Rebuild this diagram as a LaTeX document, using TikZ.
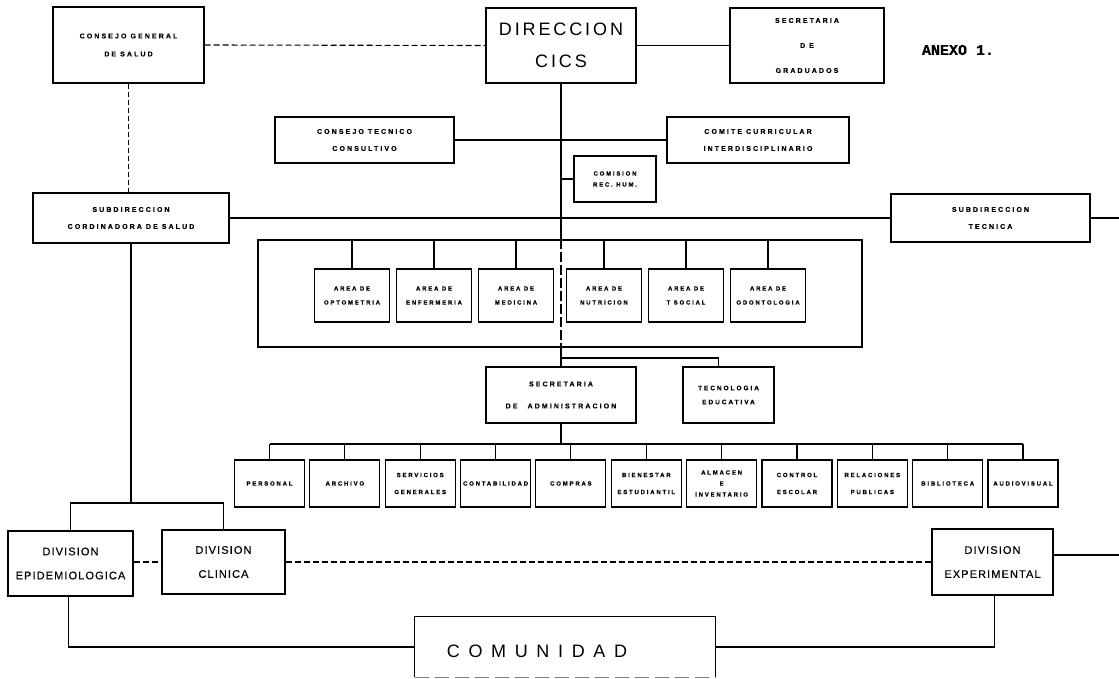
\documentclass[tikz,border=0pt]{standalone}
\usepackage{fontspec}
\setmainfont{Liberation Sans}
\newfontfamily\boldsp{Liberation Sans}[LetterSpace=30, BoldFeatures={FakeBold=0.4}]
\newfontfamily\midsp{Liberation Sans}[LetterSpace=10, FakeBold=0.25]
\newfontfamily\bigsp{Liberation Sans}[LetterSpace=16]
\newfontfamily\comsp{Liberation Sans}[LetterSpace=48]
\newfontfamily\anexof{Liberation Mono}[BoldFeatures={FakeBold=0.5}]
\tikzset{
  box/.style={draw, line width=1.1pt, inner sep=0pt, align=center},
  sm/.style={font=\boldsp\bfseries\fontsize{7}{17}\selectfont},
  xs/.style={font=\boldsp\bfseries\fontsize{6}{14}\selectfont},
  dv/.style={font=\midsp\fontsize{11}{24}\selectfont},
  ln/.style={line width=1.1pt},
  dsh/.style={line width=1.1pt, dash pattern=on 6pt off 3pt},
}
\begin{document}
\begin{tikzpicture}[x=1pt,y=-1pt]
\fill[white] (0,0) rectangle (1119,679);
\useasboundingbox (0,0) rectangle (1119,679);

% top row
\node[box, font=\boldsp\bfseries\fontsize{7}{18}\selectfont, minimum width=151pt, minimum height=76pt] (cgs) at (128.5,45) {CONSEJO GENERAL\\DE SALUD};
\node[box, font=\bigsp\fontsize{18}{32}\selectfont, minimum width=150pt, minimum height=75pt] (dir) at (561,45.5) {DIRECCION\\CICS};
\node[box, font=\boldsp\bfseries\fontsize{7}{25}\selectfont, minimum width=154pt, minimum height=75pt] (sg) at (807,45.5) {SECRETARIA\\D E\\GRADUADOS};
\node[font=\anexof\bfseries\fontsize{15}{15}\selectfont] (anx) at (958,50) {ANEXO 1.};

% consejo / comite / comision
\node[box, sm, minimum width=179pt, minimum height=46pt] (ct) at (364.5,140) {CONSEJO TECNICO\\CONSULTIVO};
\node[box, sm, minimum width=182pt, minimum height=46pt] (cc) at (758,140) {COMITE CURRICULAR\\INTERDISCIPLINARIO};
\node[box, font=\boldsp\bfseries\fontsize{6}{11}\selectfont, minimum width=82pt, minimum height=46pt] (com) at (615,179) {COMISION\\REC. HUM.};

% subdirecciones
\node[box, sm, minimum width=196pt, minimum height=50pt] (sc) at (131,218) {SUBDIRECCION\\CORDINADORA DE SALUD};
\node[box, sm, minimum width=199pt, minimum height=48pt] (st) at (990.5,218) {SUBDIRECCION\\TECNICA};
\coordinate (re1) at (1119,218);

% areas frame
\node[box, minimum width=604pt, minimum height=107pt] (fr) at (560,293.5) {};
\node[box, xs, minimum width=75pt, minimum height=53pt] (a1) at (352,295.5) {AREA DE\\OPTOMETRIA};
\node[box, xs, minimum width=75pt, minimum height=53pt] (a2) at (434,295.5) {AREA DE\\ENFERMERIA};
\node[box, xs, minimum width=75pt, minimum height=53pt] (a3) at (516,295.5) {AREA DE\\MEDICINA};
\node[box, xs, minimum width=75pt, minimum height=53pt] (a4) at (604,295.5) {AREA DE\\NUTRICION};
\node[box, xs, minimum width=75pt, minimum height=53pt] (a5) at (686,295.5) {AREA DE\\T SOCIAL};
\node[box, xs, minimum width=75pt, minimum height=53pt] (a6) at (768,295.5) {AREA DE\\ODONTOLOGIA};

% secretaria admin / tecnologia
\node[box, font=\boldsp\bfseries\fontsize{7}{22}\selectfont, minimum width=150pt, minimum height=56pt] (sa) at (561,395) {SECRETARIA\\DE\hspace{6pt} ADMINISTRACION};
\node[box, font=\boldsp\bfseries\fontsize{6.5}{14}\selectfont, minimum width=91pt, minimum height=56pt] (te) at (728.5,395) {TECNOLOGIA\\EDUCATIVA};
\coordinate (tb) at (561,358);
\coordinate (bus) at (561,444);

% bottom row
\node[box, xs, minimum width=70pt, minimum height=47pt] (b1) at (269.5,483.5) {PERSONAL};
\node[box, xs, minimum width=70pt, minimum height=47pt] (b2) at (344.9,483.5) {ARCHIVO};
\node[box, font=\boldsp\bfseries\fontsize{6}{17}\selectfont, minimum width=70pt, minimum height=47pt] (b3) at (420.2,483.5) {SERVICIOS\\GENERALES};
\node[box, xs, minimum width=70pt, minimum height=47pt] (b4) at (495.6,483.5) {CONTABILIDAD};
\node[box, xs, minimum width=70pt, minimum height=47pt] (b5) at (570.9,483.5) {COMPRAS};
\node[box, font=\boldsp\bfseries\fontsize{6}{17}\selectfont, minimum width=70pt, minimum height=47pt] (b6) at (646.3,483.5) {BIENESTAR\\ESTUDIANTIL};
\node[box, font=\boldsp\bfseries\fontsize{6}{11}\selectfont, minimum width=70pt, minimum height=47pt] (b7) at (721.6,483.5) {ALMACEN\\E\\INVENTARIO};
\node[box, font=\boldsp\bfseries\fontsize{6}{17}\selectfont, minimum width=70pt, minimum height=47pt] (b8) at (797,483.5) {CONTROL\\ESCOLAR};
\node[box, font=\boldsp\bfseries\fontsize{6}{17}\selectfont, minimum width=70pt, minimum height=47pt] (b9) at (872.3,483.5) {RELACIONES\\PUBLICAS};
\node[box, xs, minimum width=70pt, minimum height=47pt] (b10) at (947.7,483.5) {BIBLIOTECA};
\node[box, xs, minimum width=70pt, minimum height=47pt] (b11) at (1023,483.5) {AUDIOVISUAL};

% divisions
\node[box, dv, minimum width=125pt, minimum height=65pt] (de) at (70.5,563.5) {DIVISION\\EPIDEMIOLOGICA};
\node[box, dv, minimum width=123pt, minimum height=64pt] (dc) at (223.5,562) {DIVISION\\CLINICA};
\node[box, dv, minimum width=121pt, minimum height=66pt] (dx) at (992.5,562) {DIVISION\\EXPERIMENTAL};
\coordinate (re2) at (1119,555);
\coordinate (db) at (131,503);

% comunidad
\node[inner sep=0pt, minimum width=300pt, minimum height=60pt] (cm) at (565,647) {};
\node[inner sep=0pt, font=\comsp\fontsize{18}{18}\selectfont] (cmt) at ([xshift=-28pt,yshift=-4pt]cm.center) {COMUNIDAD};
\draw[ln] (cm.south west) -- (cm.north west) -- (cm.north east) -- (cm.south east);
\draw[line width=1pt, gray, dash pattern=on 14pt off 6pt] (cm.south west) -- (cm.south east);

% connectors
\draw[dsh] (cgs.east) -- (dir.west);
\draw[ln] (dir.east) -- (sg.west);
\draw[line width=1.1pt, dash pattern=on 5pt off 3pt] (cgs.south) -- (cgs.south |- sc.north);
\draw[ln] (dir.south) -- (dir.south |- fr.north);
\draw[line width=1.1pt, dash pattern=on 10pt off 3pt] (dir.south |- fr.north) -- (dir.south |- fr.south);
\draw[ln] (dir.south |- fr.south) -- (sa.north);
\draw[ln] (ct.east) -- (ct.east -| dir.south);
\draw[ln] (cc.west) -- (cc.west -| dir.south);
\draw[ln] (com.west) -- (com.west -| dir.south);
\draw[ln] (sc.east) -- (st.west);
\draw[ln] (st.east) -- (re1);
\foreach \a in {a1,a2,a3,a4,a5,a6} \draw[ln] (\a.north) -- (\a.north |- fr.north);
\draw[ln] (tb) -- ([xshift=-10pt]te.north |- tb) -- ([xshift=-10pt]te.north);
\draw[ln] (sa.south) -- (bus);
\draw[ln] (b1.north |- bus) -- (b11.north |- bus);
\foreach \b in {b1,b2,b3,b4,b5,b6,b7,b8,b9,b10,b11} \draw[ln] (\b.north) -- (\b.north |- bus);
\draw[ln] (sc.south) -- (db);
\draw[ln] (de.north) -- (de.north |- db) -- (dc.north |- db) -- (dc.north);
\draw[dsh] (de.east |- dc.west) -- (dc.west);
\draw[dsh] (dc.east) -- (dx.west);
\draw[ln] (dx.east |- re2) -- (re2);
\draw[ln] ([xshift=-2pt]de.south) |- (cm.west);
\draw[ln] ([xshift=2pt]dx.south) |- (cm.east);
\end{tikzpicture}
\end{document}
